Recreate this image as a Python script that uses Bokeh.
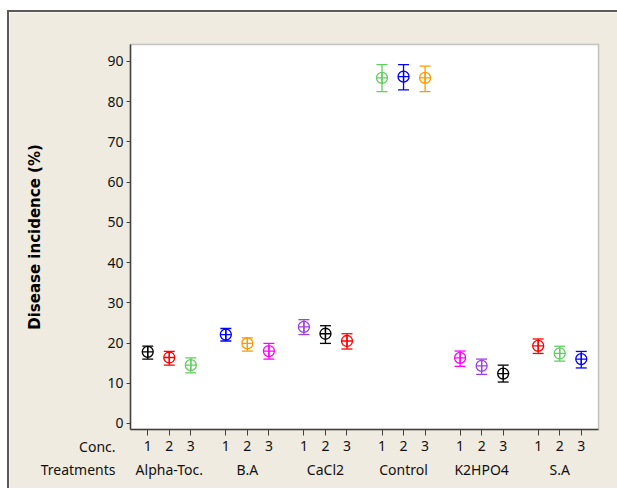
from bokeh.plotting import figure
from bokeh.models import (FixedTicker, LinearAxis, Range1d, Label, ColumnDataSource,
                          BoxAnnotation)
from bokeh.embed import file_html
from bokeh.resources import INLINE

# ---- data ----
treatments = ["Alpha-Toc.", "B.A", "CaCl2", "Control", "K2HPO4", "S.A"]
conc_levels = ["1", "2", "3"]
means = [17.8, 16.4, 14.5,
         22.1, 19.9, 18.0,
         24.0, 22.3, 20.5,
         85.9, 86.2, 85.9,
         16.3, 14.3, 12.4,
         19.3, 17.4, 16.0]
lower = [16.0, 14.5, 12.6,
         20.5, 18.0, 16.0,
         22.1, 19.9, 18.5,
         82.5, 82.9, 82.5,
         14.2, 12.2, 10.3,
         17.4, 15.5, 13.8]
upper = [19.2, 17.9, 16.3,
         23.6, 21.3, 19.9,
         25.8, 24.3, 22.3,
         89.2, 89.2, 88.8,
         18.0, 16.0, 14.5,
         21.0, 19.2, 17.9]
y_ticks = [0, 10, 20, 30, 40, 50, 60, 70, 80, 90]
palette = ["#000000", "#FF0000", "#5FCF5F", "#0000FF", "#FF9900", "#FF00FF", "#A040E0"]

# ---- layout helpers ----
GAP = 3.625
n_t, n_c = len(treatments), len(conc_levels)
xs = [g * GAP + c for g in range(n_t) for c in range(n_c)]
colors = [palette[i % len(palette)] for i in range(len(xs))]
group_centers = [g * GAP + 1 for g in range(n_t)]

src = ColumnDataSource(dict(x=xs, m=means, lo=lower, hi=upper, color=colors))

BG = "#EFEBE0"
FONT = "Noto Sans"
TXT = "#111111"
AX = "#404040"

# data area (in data units)
x0 = -0.8
x1 = (n_t - 1) * GAP + (n_c - 1) + 0.8
y0, y1 = -1.5, 94.2

# canvas / data-area pixel geometry
FW, FH = 608, 476
DL, DR, DT, DB = 121, 589, 32, 417
ppx = (DR - DL) / (x1 - x0)
ppy = (DB - DT) / (y1 - y0)
xr = Range1d(x0 - DL / ppx, x1 + (FW - DR) / ppx)
yr = Range1d(y0 - (FH - DB) / ppy, y1 + DT / ppy)

p = figure(frame_width=FW, frame_height=FH, x_range=xr, y_range=yr,
           x_axis_location=None, y_axis_location=None, min_border=0,
           output_backend="svg", toolbar_location=None,
           background_fill_color=BG, border_fill_color=BG)
p.styles = {"margin-left": "7px", "margin-top": "10px",
            "border-left": "2px solid #5a5a5a", "border-top": "2px solid #5a5a5a"}
p.grid.visible = False
p.outline_line_color = None

# white data area with dark frame
p.add_layout(BoxAnnotation(left=x0, right=x1, bottom=y0, top=y1,
                           fill_color="white", fill_alpha=1.0,
                           line_color="#505050", line_width=1.5, level="underlay"))

# y axis
ya = LinearAxis(fixed_location=x0, bounds=(y0, y1),
                ticker=FixedTicker(ticks=y_ticks),
                major_tick_out=4, major_tick_in=0, minor_tick_line_color=None,
                axis_line_color=AX, axis_line_width=1.5, major_tick_line_color=AX,
                major_label_text_font=FONT, major_label_text_font_size="14px",
                major_label_text_color=TXT, major_label_standoff=3,
                axis_label="Disease incidence (%)", axis_label_text_font="DejaVu Sans",
                axis_label_text_font_style="bold", axis_label_text_font_size="15px",
                axis_label_text_color="#000000", axis_label_standoff=60)
p.add_layout(ya, "left")

# x axis: concentrations
xa = LinearAxis(fixed_location=y0, bounds=(x0, x1),
                ticker=FixedTicker(ticks=xs),
                major_label_overrides={x: conc_levels[i % n_c] for i, x in enumerate(xs)},
                major_tick_out=6, major_tick_in=0, minor_tick_line_color=None,
                axis_line_color=AX, axis_line_width=1.5, major_tick_line_color=AX,
                major_label_text_font=FONT, major_label_text_font_size="14px",
                major_label_text_color=TXT, major_label_standoff=5)
p.add_layout(xa, "below")

# x axis: treatments
ta = LinearAxis(fixed_location=y0, bounds=(x0, x1),
                ticker=FixedTicker(ticks=group_centers),
                major_label_overrides={x: t for x, t in zip(group_centers, treatments)},
                major_tick_out=0, major_tick_in=0, axis_line_color=None,
                major_tick_line_color=None, minor_tick_line_color=None,
                major_label_text_font=FONT, major_label_text_font_size="14px",
                major_label_text_color=TXT, major_label_standoff=30)
p.add_layout(ta, "below")

# row titles
for txt, dy in [("Conc.", 17), ("Treatments", 40)]:
    p.add_layout(Label(x=x0 - 15 / ppx, y=y0 - dy / ppy, text=txt,
                       text_align="right", text_baseline="middle",
                       text_font=FONT, text_font_size="14px", text_color=TXT))

# error bars
p.segment(x0="x", y0="lo", x1="x", y1="hi", line_color="color", line_width=1.3, source=src)
p.scatter(x="x", y="lo", marker="dash", size=11, line_color="color", line_width=1.3, source=src)
p.scatter(x="x", y="hi", marker="dash", size=11, line_color="color", line_width=1.3, source=src)
# means
p.scatter(x="x", y="m", marker="circle_cross", size=11, fill_color=None,
          line_color="color", line_width=1.3, source=src)

open("out.html", "w").write(file_html(p, INLINE))
